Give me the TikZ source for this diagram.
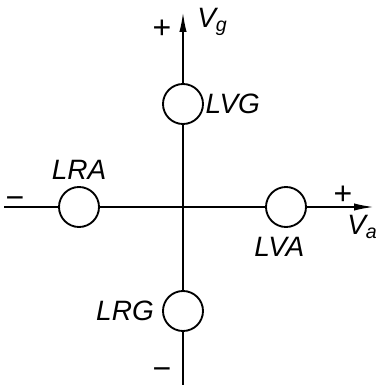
\documentclass[tikz,border=0pt]{standalone}
\usepackage{fontspec}
\setmainfont{Liberation Sans}
\usetikzlibrary{arrows.meta,positioning}

\begin{document}
\begin{tikzpicture}[
                x=0.75pt, y=-0.75pt,
                node distance=6pt,
                lamp/.style={draw, circle, line width=1.4pt, minimum size=30pt,
                             inner sep=0pt},
                lbl/.style={font=\fontsize{21}{24}\selectfont\itshape, inner sep=1pt},
                sgn/.style={font=\fontsize{24}{26}\selectfont, inner sep=0pt},
                axis/.style={line width=1.4pt}
            ]
            \useasboundingbox (0,0) rectangle (375,385);
            \node[lamp] (lvg) at (183,104) {};
            \node[lamp] (lrg) at (183,311) {};
            \node[lamp] (lra) at (79,207)  {};
            \node[lamp] (lva) at (286,207) {};
            \coordinate (top)   at (183,12);
            \coordinate (bot)   at (183,385);
            \coordinate (left)  at (4,207);
            \coordinate (right) at (374,207);
            \draw[axis] (left) -- (lra) (lra) -- (lva) (bot) -- (lrg) (lrg) -- (lvg);
            \draw[axis, -{Latex[length=15pt,width=5.5pt]}] (lva) -- (right);
            \draw[axis, -{Latex[length=15pt,width=5.5pt]}] (lvg) -- (top);
            \node[lbl, right=0pt of lvg] (tlvg) {LVG};
            \node[lbl, above=4pt of lra] (tlra) {LRA};
            \node[lbl, below=6pt of lva, xshift=-5pt] (tlva) {LVA};
            \node[lbl, left=5pt of lrg] (tlrg) {LRG};
            \node[lbl, anchor=north west, inner sep=0pt] (vg) at (197,8) {V\textsubscript{g}};
            \node[lbl, anchor=north west, inner sep=0pt] (va) at (347,215) {V\textsubscript{a}};
            \node[sgn] (pg) at (162,29)  {+};
            \node[sgn] (pa) at (343,195) {+};
            \node[sgn] (ma) at (15,203)  {−};
            \node[sgn] (mg) at (162,374) {−};
            \end{tikzpicture}
\end{document}
